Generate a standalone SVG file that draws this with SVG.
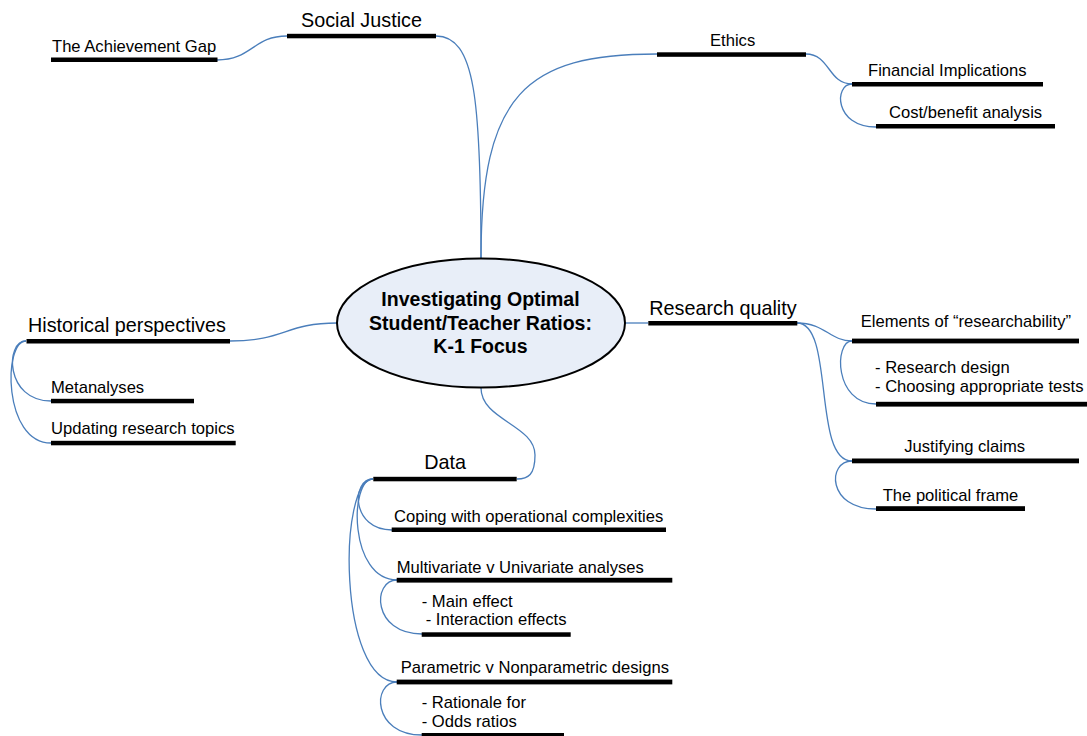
<svg xmlns="http://www.w3.org/2000/svg" width="1087" height="736" viewBox="0 0 1087 736">
<style>
.t{font-family:"Liberation Sans",Arial,sans-serif;font-size:16.6px;fill:#000}
.m{font-family:"Liberation Sans",Arial,sans-serif;font-size:19.8px;fill:#000}
.c{font-family:"Liberation Sans",Arial,sans-serif;font-size:19.5px;font-weight:bold;fill:#000;text-anchor:middle}
.bar{fill:#000}
.ln{fill:none;stroke:#4a7ebb;stroke-width:1.3}
</style>
<rect width="1087" height="736" fill="#fff"/>
<g id="connectors">
<path class="ln" d="M436,36 C475,36 481,100 481,258"/>
<path class="ln" d="M657,54 C525,54 481,95 481,258"/>
<path class="ln" d="M217,60 C252,60 253,36 287,36"/>
<path class="ln" d="M806,54 C830,54 828,84 852,84"/>
<path class="ln" d="M852,84 C834,84 834,127 876,127"/>
<path class="ln" d="M230,341 C285,341 285,323 337,323"/>
<path class="ln" d="M26,341 C5,341 5,401 51,401"/>
<path class="ln" d="M26,341 C3,341 3,443 51,443"/>
<path class="ln" d="M625,323 L648,323"/>
<path class="ln" d="M797,323 C825,323 830,341 852,341"/>
<path class="ln" d="M797,323 C835,323 812,461 852,461"/>
<path class="ln" d="M852,341 C834,341 834,404 876,404"/>
<path class="ln" d="M852,461 C827,461 827,509 876,509"/>
<path class="ln" d="M481,388 C481,420 535,425 535,455 C535,475 528,479 517,479"/>
<path class="ln" d="M373,479 C351,479 351,530 392,530"/>
<path class="ln" d="M373,479 C349,479 349,580 397,580"/>
<path class="ln" d="M373,479 C338,479 338,682 397,682"/>
<path class="ln" d="M397,580 C372,580 372,634 422,634"/>
<path class="ln" d="M397,682 C372,682 372,735 422,735"/>
</g>
<g id="center">
<ellipse cx="481" cy="323" rx="144" ry="64.5" fill="#e8eef8" stroke="#000" stroke-width="2"/>
<text class="c" x="480.5" y="305.5">Investigating Optimal</text>
<text class="c" x="480.5" y="329.5">Student/Teacher Ratios:</text>
<text class="c" x="480.5" y="352.5">K-1 Focus</text>
</g>
<g id="social-justice">
<rect class="bar" x="287" y="33.8" width="149" height="4.5"/>
<text class="m" x="301" y="26.7">Social Justice</text>
</g>
<g id="achievement-gap">
<rect class="bar" x="51" y="57.5" width="166.5" height="4.5"/>
<text class="t" x="52" y="52.3">The Achievement Gap</text>
</g>
<g id="ethics">
<rect class="bar" x="657" y="52.3" width="149" height="4.5"/>
<text class="t" x="710" y="46">Ethics</text>
</g>
<g id="financial">
<rect class="bar" x="852" y="82" width="191" height="4.5"/>
<text class="t" x="868" y="76">Financial Implications</text>
</g>
<g id="cost-benefit">
<rect class="bar" x="876" y="124" width="179" height="4.5"/>
<text class="t" x="889" y="117.7">Cost/benefit analysis</text>
</g>
<g id="historical">
<rect class="bar" x="26.5" y="339" width="203.5" height="4.5"/>
<text class="m" x="28" y="332.3">Historical perspectives</text>
</g>
<g id="metanalyses">
<rect class="bar" x="51" y="398.8" width="143" height="4.5"/>
<text class="t" x="51" y="392.7">Metanalyses</text>
</g>
<g id="updating">
<rect class="bar" x="51" y="440.8" width="184.7" height="4.5"/>
<text class="t" x="51" y="434.3">Updating research topics</text>
</g>
<g id="research-quality">
<rect class="bar" x="648.3" y="321" width="149" height="4.5"/>
<text class="m" x="649.3" y="315">Research quality</text>
</g>
<g id="elements">
<rect class="bar" x="852" y="338.6" width="227" height="4.8"/>
<text class="t" x="860.7" y="326.7">Elements of “researchability”</text>
</g>
<g id="research-design">
<rect class="bar" x="876" y="401.8" width="211" height="4.8"/>
<text class="t" x="875" y="372.7">- Research design</text>
<text class="t" x="875" y="391.7">- Choosing appropriate tests</text>
</g>
<g id="justifying">
<rect class="bar" x="852" y="458.5" width="227" height="4.8"/>
<text class="t" x="904.3" y="451.7">Justifying claims</text>
</g>
<g id="political">
<rect class="bar" x="876" y="506.2" width="149" height="4.8"/>
<text class="t" x="882.7" y="500.7">The political frame</text>
</g>
<g id="data">
<rect class="bar" x="373.3" y="476.8" width="143.4" height="4.5"/>
<text class="m" x="424.3" y="469.3">Data</text>
</g>
<g id="coping">
<rect class="bar" x="391.7" y="527.5" width="274.3" height="4.5"/>
<text class="t" x="394" y="521.7">Coping with operational complexities</text>
</g>
<g id="multivariate">
<rect class="bar" x="396.7" y="577.8" width="275.6" height="4.8"/>
<text class="t" x="396.7" y="573.3">Multivariate v Univariate analyses</text>
</g>
<g id="effects">
<rect class="bar" x="421.7" y="632.3" width="149" height="4.5"/>
<text class="t" x="421.7" y="606.7">- Main effect</text>
<text class="t" x="425.7" y="625">- Interaction effects</text>
</g>
<g id="parametric">
<rect class="bar" x="396.7" y="679.6" width="275.6" height="4.8"/>
<text class="t" x="400.7" y="673.3">Parametric v Nonparametric designs</text>
</g>
<g id="rationale">
<rect class="bar" x="421.7" y="733" width="142.3" height="4.5"/>
<text class="t" x="421.7" y="708.3">- Rationale for</text>
<text class="t" x="421.7" y="727.3">- Odds ratios</text>
</g>
</svg>
